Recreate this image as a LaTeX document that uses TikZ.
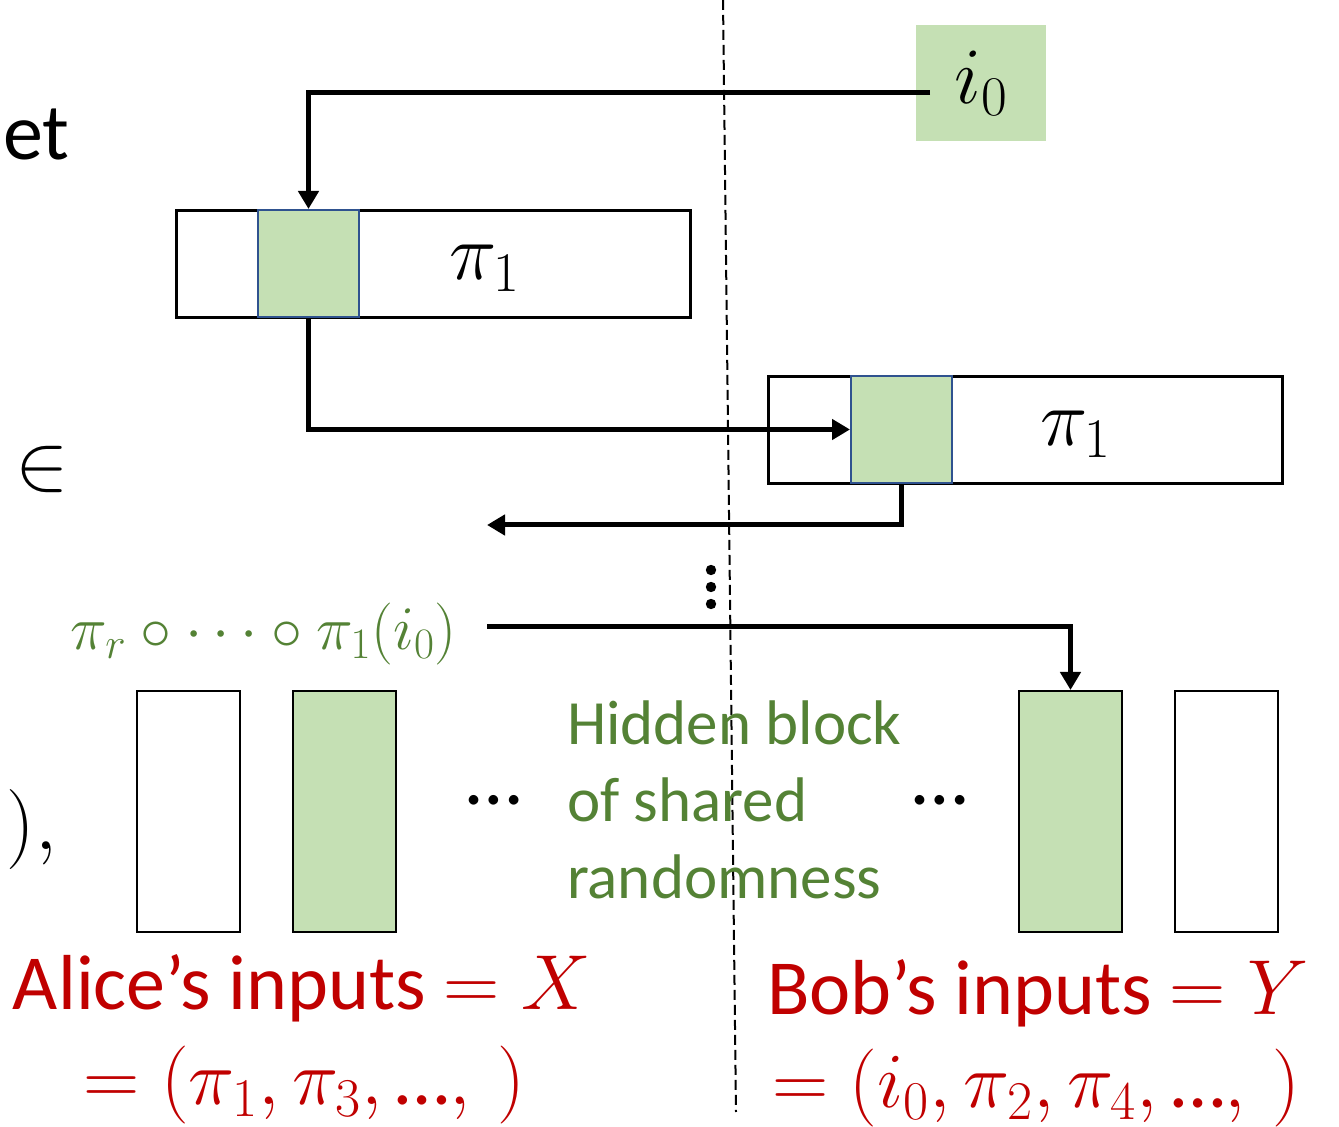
\RequirePackage{fix-cm}
\documentclass[tikz,border=0pt]{standalone}
\usepackage{fontspec}
\setmainfont{Carlito}
\usetikzlibrary{arrows.meta,positioning}
\definecolor{cellgreen}{HTML}{C5E0B4}
\definecolor{cellblue}{HTML}{2F528F}
\definecolor{txtgreen}{HTML}{548235}
\definecolor{txtred}{HTML}{C00000}
\tikzset{
  perm/.style={draw, line width=1.5pt, minimum width=257pt, minimum height=53.5pt, inner sep=0pt, anchor=north west},
  hit/.style={draw=cellblue, fill=cellgreen, line width=1pt, minimum width=50.5pt, minimum height=53.5pt, inner sep=0pt, anchor=north west},
  block/.style={draw, line width=1pt, minimum width=51.5pt, minimum height=120.5pt, inner sep=0pt, anchor=north west},
  flow/.style={line width=2.5pt, -{Triangle[length=9pt,width=10pt]}},
  big/.style={font=\fontsize{40}{48}\selectfont},
  inputs/.style={text=txtred, font=\fontsize{39}{47}\selectfont},
}
\begin{document}
\begin{tikzpicture}[x=0.5pt,y=-0.5pt]
    \useasboundingbox (0,0) rectangle (1339,1127);
    \clip (0,0) rectangle (1339,1127);
    % split between the two players
    \draw[line width=1pt, dash pattern=on 5pt off 2.5pt] (723,0) -- (736,1112);
    % leftovers of the text at the left edge
    \node[big, inner sep=0pt, anchor=base west] at (3,160) {et};
    \node[big] at (42,470) {$\in$};
    \node[big, anchor=east] at (64,830) {$),$};
    % starting index
    \node[big, fill=cellgreen, minimum width=65pt, minimum height=58pt, inner sep=0pt, anchor=north west] (start) at (916,25) {$i_0$};
    % two copies of the permutation
    \node[perm] (perm1) at (175,209) {};
    \node[hit] (hit1) at (257,209) {};
    \node[big] at (485,268) {$\pi_1$};
    \node[perm] (perm2) at (767,375) {};
    \node[hit] (hit2) at (850,375) {};
    \node[big] at (1076,434) {$\pi_1$};
    \coordinate (back) at (487,525);
    \coordinate (fwd) at (487,627);
    \foreach \y in {570,587,604} \fill (711,\y) circle (2.6pt);
    \node[text=txtgreen, anchor=east, font=\fontsize{31}{37}\selectfont] (comp) at (464,634) {$\pi_r\circ\cdots\circ\pi_1(i_0)$};
    % blocks of shared randomness
    \node[block] (b1) at (136,690) {};
    \node[block, fill=cellgreen] (b2) at (292,690) {};
    \node[block, fill=cellgreen] (b3) at (1018,690) {};
    \node[block] (b4) at (1174,690) {};
    \node[big] at (494,800) {\dots};
    \node[big] at (940,800) {\dots};
    \node[text=txtgreen, anchor=north west, align=left, font=\fontsize{31.5}{38.5}\selectfont] (hidden) at (560,694) {Hidden block\\of shared\\randomness};
    % connectors
    \draw[flow] ([xshift=7pt,yshift=-4.5pt]start.west) -| (hit1.north);
    \draw[flow] (hit1.south) |- (hit2.west);
    \draw[flow] (hit2.south) |- (back);
    \draw[flow] (fwd) -| (b3.north);
    % inputs of the players
    \node[inputs] (alice) at (302,988) {Alice’s inputs $= X$};
    \node[inputs] (alicex) at (304,1085) {$= (\pi_1,\pi_3,$\,…$,\,)$};
    \node[inputs] (bob) at (1038,993) {Bob’s inputs $= Y$};
    \node[inputs] (boby) at (1036,1088) {$= (i_0,\pi_2,\pi_4,$\,…$,\,)$};
\end{tikzpicture}
\end{document}
